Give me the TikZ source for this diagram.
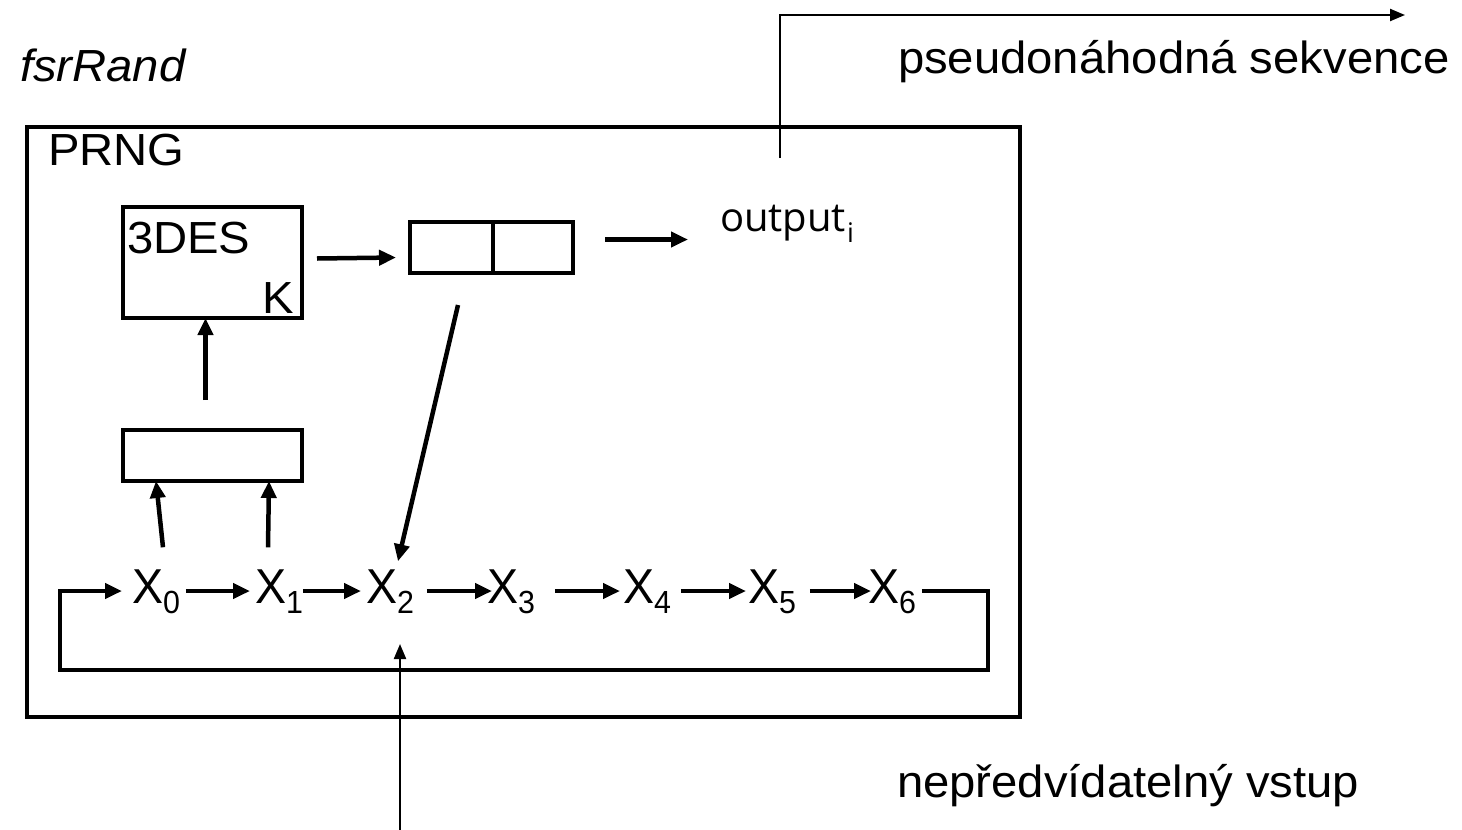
\documentclass[tikz,border=0pt]{standalone}
\usepackage{fontspec}
\setmainfont{Liberation Sans}[FakeStretch=1.05]
\newfontfamily\xfont{Liberation Sans}[FakeStretch=0.95]
\newfontfamily\outfont{Open Sans}
\usetikzlibrary{arrows.meta,calc}
\newcommand\xsub[1]{{\xfont\fontsize{49}{55}\selectfont X\raisebox{-10pt}{\fontsize{32}{32}\selectfont #1}}}
\begin{document}
\begin{tikzpicture}[x=1pt,y=-1pt,
  font=\fontsize{45}{50}\selectfont,
  txt/.style={inner sep=0pt, outer sep=0pt},
  boxx/.style={draw, line width=4.5pt, inner sep=0pt, outer sep=0pt},
  arr/.style={line width=4.5pt, -{Triangle[length=17pt,width=15pt]}},
  thinarr/.style={line width=2.2pt, -{Triangle[length=15pt,width=12pt]}}
]
\useasboundingbox (0,0) rectangle (1462,830);

% main box
\node[boxx, minimum width=993pt, minimum height=590pt, anchor=north west] (prng) at (27,127) {};
\node[txt, anchor=base west] (prnglbl) at (48,165) {PRNG};
\node[txt, anchor=base west, font=\fontsize{45}{50}\selectfont\itshape] (title) at (20,81) {fsrRand};

% 3DES box
\node[boxx, minimum width=179pt, minimum height=111pt, anchor=north west] (des) at (123,207) {};
\node[txt, anchor=base west] (deslbl) at (127,253) {3DES};
\node[txt, anchor=base east] (klbl) at (294,313) {K};

% register (two cells)
\node[boxx, minimum width=83pt, minimum height=51pt, anchor=north west] (regA) at (410,222) {};
\node[boxx, minimum width=80pt, minimum height=51pt, anchor=north west] (regB) at (493,222) {};

% bottom box
\node[boxx, minimum width=179pt, minimum height=51pt, anchor=north west] (bot) at (123,430) {};

% output
\node[txt, anchor=base west, font=\outfont\fontsize{40}{44}\selectfont] (out) at (720,231) {output\hspace{1pt}\raisebox{-11pt}{\fontsize{27}{27}\selectfont i}};

% X sequence
\node[txt, anchor=base west] (x0) at (132,603) {\xsub{0}};
\node[txt, anchor=base west] (x1) at (255,603) {\xsub{1}};
\node[txt, anchor=base west] (x2) at (366,603) {\xsub{2}};
\node[txt, anchor=base west] (x3) at (487,603) {\xsub{3}};
\node[txt, anchor=base west] (x4) at (623,603) {\xsub{4}};
\node[txt, anchor=base west] (x5) at (748,603) {\xsub{5}};
\node[txt, anchor=base west] (x6) at (868,603) {\xsub{6}};

% outside labels
\node[txt, anchor=base west] (seq) at (898,73) {pseudonáhodná sekvence};
\node[txt, anchor=base west] (inp) at (897,797) {nepředvídatelný vstup};

\coordinate (fbR) at (988,670);
\coordinate (fbL) at (60,670);
\coordinate (seqE) at (1405,15);
\coordinate (inB) at (400,830);

% arrows along X row
\draw[arr, shorten <=6pt, shorten >=5pt] ([yshift=12pt]x0.base east) -- ([yshift=12pt]x1.base west);
\draw[arr, shorten <=0pt, shorten >=5pt] ([yshift=12pt]x1.base east) -- ([yshift=12pt]x2.base west);
\draw[arr, shorten <=13pt, shorten >=-5pt] ([yshift=12pt]x2.base east) -- ([yshift=12pt]x3.base west);
\draw[arr, shorten <=20pt, shorten >=3pt] ([yshift=12pt]x3.base east) -- ([yshift=12pt]x4.base west);
\draw[arr, shorten <=10pt, shorten >=2pt] ([yshift=12pt]x4.base east) -- ([yshift=12pt]x5.base west);
\draw[arr, shorten <=14pt, shorten >=-3pt] ([yshift=12pt]x5.base east) -- ([yshift=12pt]x6.base west);

% feedback loop
\draw[arr] ([yshift=12pt,xshift=6pt]x6.base east) -| (fbR) -- (fbL) |- ([yshift=12pt,xshift=-10pt]x0.base west);

% X0, X1 up to bottom box
\draw[arr] ([xshift=31pt,yshift=22pt]x0.north west) -- ([xshift=33pt]bot.south west);
\draw[arr] ([xshift=13pt,yshift=22pt]x1.north west) -- ([xshift=-33pt]bot.south east);

% bottom box up to 3DES
\draw[arr] ([xshift=-7pt,yshift=30pt]bot.north) -- ([xshift=-7pt]des.south);

% 3DES to register
\draw[arr] ($(des.east)+(15,-4)$) -- ($(regA.west)+(-14,10)$);

% register to output
\draw[arr] ($(regB.east)+(32,-8)$) -- ($(out.west|-regB.east)+(-32,-8)$);

% register down to X2
\draw[arr] ($(regA.south east)+(-35,32)$) -- ($(x2.north west)+(32,-8)$);

% output to sequence
\draw[thinarr] ($(out.base west)+(60,-73)$) |- (seqE);

% unpredictable input
\draw[thinarr, shorten >=31pt] (inB) -- (inB |- x2.south);
\end{tikzpicture}
\end{document}
